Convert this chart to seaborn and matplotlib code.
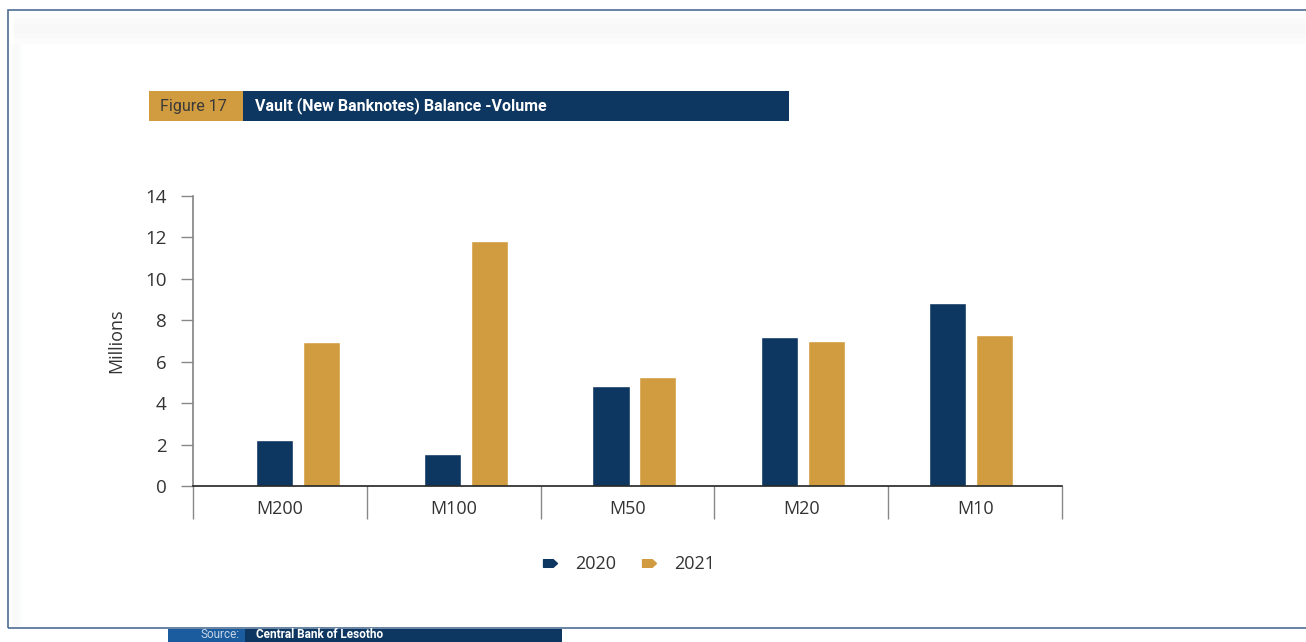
import matplotlib
matplotlib.use("Agg")
import matplotlib.pyplot as plt
import seaborn as sns
import pandas as pd
import numpy as np
from matplotlib.patches import Rectangle
from matplotlib.lines import Line2D
from matplotlib.path import Path

categories = ["M200", "M100", "M50", "M20", "M10"]
years = ["2020", "2021"]
values_2020 = [2.22, 1.55, 4.83, 7.19, 8.84]
values_2021 = [6.95, 11.85, 5.26, 7.0, 7.29]
y_ticks = [0, 2, 4, 6, 8, 10, 12, 14]

NAVY = "#0D3660"
GOLD = "#D19C3F"
NARROW = ["Roboto", "DejaVu Sans"]

sns.set_theme(style="white")
plt.rcParams["font.family"] = ["Open Sans", "DejaVu Sans"]

df = pd.DataFrame({
    "Denomination": categories * 2,
    "Year": [years[0]] * len(categories) + [years[1]] * len(categories),
    "Value": values_2020 + values_2021,
})

W, H = 1306, 642
fig = plt.figure(figsize=(W / 100, H / 100), dpi=100)

def px_rect(x0, y0, x1, y1, **kw):
    fig.patches.append(Rectangle((x0 / W, 1 - y1 / H), (x1 - x0) / W, (y1 - y0) / H,
                                 transform=fig.transFigure, figure=fig, **kw))

# faint shadow bands inside frame
for i, a in enumerate([0.05, 0.09, 0.12, 0.12, 0.09, 0.05]):
    px_rect(14, 14 + i * 5, W, 19 + i * 5, facecolor="#C8CCCC", edgecolor="none", alpha=a)
for i, a in enumerate([0.06, 0.1, 0.1, 0.06]):
    px_rect(10 + i * 3, 44, 13 + i * 3, 628, facecolor="#C8CCCC", edgecolor="none", alpha=a)

# frame
px_rect(8, 10, W + 5, 628, facecolor="none", edgecolor="#4E6E92", linewidth=1.2)

# title boxes
px_rect(149, 91, 243, 121, facecolor=GOLD, edgecolor="none")
px_rect(243, 91, 789, 121, facecolor=NAVY, edgecolor="none")
fig.text(160 / W, 1 - 106 / H, "Figure 17", color="#3A3A3A", fontsize=11.5,
         va="center", ha="left", family=NARROW)
fig.text(255 / W, 1 - 106 / H, "Vault (New Banknotes) Balance -Volume", color="white",
         fontsize=11.5, fontweight="bold", va="center", ha="left", family=NARROW)

# source boxes
px_rect(168, 629, 245, 650, facecolor="#1A5C9E", edgecolor="none")
px_rect(245, 629, 562, 650, facecolor=NAVY, edgecolor="none")
fig.text(240 / W, 1 - 641 / H, "Source:", color="#C9D6E6", fontsize=8.5,
         va="bottom", ha="right", family=NARROW)
fig.text(256 / W, 1 - 641 / H, "Central Bank of Lesotho", color="white", fontsize=8.5,
         fontweight="bold", va="bottom", ha="left", family=NARROW)

ax = fig.add_axes([193 / W, 1 - 486 / H, (1062 - 193) / W, (486 - 196) / H])
sns.barplot(data=df, x="Denomination", y="Value", hue="Year", order=categories,
            hue_order=years, palette=[NAVY, GOLD], width=0.558, gap=0.21,
            saturation=1, legend=False, ax=ax)

n = len(categories)
x_lo, x_hi = -0.624, 4.541
ax.set_ylim(0, 14)
ax.set_xlim(x_lo, x_hi)
ax.set_yticks(y_ticks)
ax.set_yticklabels([str(t) for t in y_ticks], fontsize=13.5, color="#333333")
ax.tick_params(axis="y", which="major", length=9, width=1, color="#888888",
               pad=10, left=True)

bounds = np.linspace(x_lo, x_hi, n + 1)
ax.set_xticks(bounds)
ax.set_xticklabels([""] * (n + 1))
ax.tick_params(axis="x", which="major", length=24, width=1, color="#888888",
               direction="out", bottom=True)
ax.set_xticks((bounds[:-1] + bounds[1:]) / 2, minor=True)
ax.set_xticklabels(categories, minor=True, fontsize=13, color="#333333")
ax.tick_params(axis="x", which="minor", length=0, pad=10)

ax.set_xlabel("")
ax.set_ylabel("Millions", fontsize=13, color="#333333", labelpad=14)

for s in ["top", "right"]:
    ax.spines[s].set_visible(False)
ax.spines["left"].set_color("#888888")
ax.spines["bottom"].set_color("#222222")
ax.spines["bottom"].set_linewidth(1.2)
ax.grid(False)

# legend with pointed markers
verts = [(-1, -0.55), (0.4, -0.55), (1, 0), (0.4, 0.55), (-1, 0.55), (-1, -0.55)]
codes = [Path.MOVETO, Path.LINETO, Path.LINETO, Path.LINETO, Path.LINETO, Path.CLOSEPOLY]
mk = Path(verts, codes)
handles = [Line2D([], [], marker=mk, linestyle="none", markersize=10,
                  markerfacecolor=c, markeredgecolor=c) for c in [NAVY, GOLD]]
fig.legend(handles, years, loc="center", bbox_to_anchor=(628 / W, 1 - 564 / H),
           ncol=2, frameon=False, fontsize=13, handlelength=1.0, handletextpad=0.9,
           columnspacing=1.3, labelcolor="#333333")

fig.savefig("out.png", dpi=100)
